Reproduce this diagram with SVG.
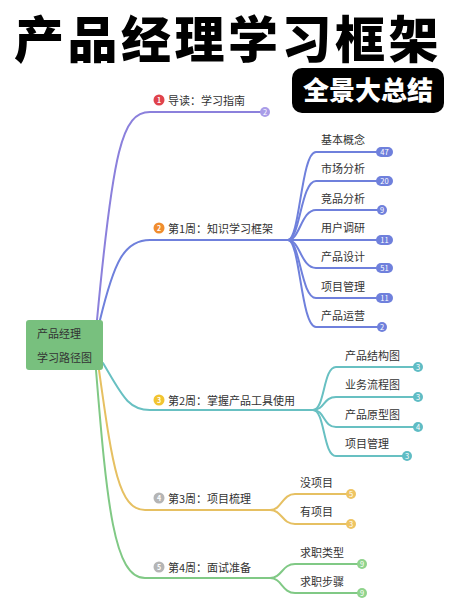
<svg xmlns="http://www.w3.org/2000/svg" width="452" height="600" viewBox="0 0 452 600">
<style>
text{font-family:"Noto Sans CJK SC","Noto Sans",sans-serif}
.title{font-size:50px;font-weight:900;fill:#000;letter-spacing:3.5px}
.lbl{font-size:11px;fill:#333}
.btxt{font-size:7.5px;fill:#fff;text-anchor:middle}
.ntxt{font-size:7px;fill:#fff;text-anchor:middle;font-weight:bold}
.c{fill:none;stroke-width:2;stroke-linecap:round}
.b1{stroke:#8b80dc}.b2{stroke:#6f80dc}.b3{stroke:#68c0c2}.b4{stroke:#e6c062}.b5{stroke:#80c985}
</style>
<rect width="452" height="600" fill="#fff"/>
<text class="title" x="14" y="58">产品经理学习框架</text>
<g id="badge-title">
<rect x="292" y="68" width="152" height="45" rx="10" fill="#000"/>
<text x="368" y="100" font-size="26" font-weight="900" fill="#fff" text-anchor="middle">全景大总结</text>
</g>
<g id="connectors">
<path class="c b1" d="M97 320 C113 150 122 112 150 112 H262"/>
<path class="c b2" d="M100 320 C114 262 124 240 150 240 H288"/>
<path class="c b2" d="M288 240 C300 240 301 152 316 152 H383"/>
<path class="c b2" d="M288 240 C300 240 301 181 316 181 H383"/>
<path class="c b2" d="M288 240 C300 240 301 210 316 210 H380"/>
<path class="c b2" d="M288 240 H383"/>
<path class="c b2" d="M288 240 C300 240 301 268 316 268 H383"/>
<path class="c b2" d="M288 240 C300 240 301 298 316 298 H383"/>
<path class="c b2" d="M288 240 C300 240 301 327 316 327 H380"/>
<path class="c b3" d="M103 363 C122 395 128 410 150 410 H313"/>
<path class="c b3" d="M313 410 C325 410 323 367 336 367 H416"/>
<path class="c b3" d="M313 410 C325 410 323 397 336 397 H416"/>
<path class="c b3" d="M313 410 C325 410 323 427 336 427 H416"/>
<path class="c b3" d="M313 410 C325 410 323 456 336 456 H405"/>
<path class="c b4" d="M99 370 C112 462 118 510 145 510 H270"/>
<path class="c b4" d="M270 510 C282 510 282 494 295 494 H349"/>
<path class="c b4" d="M270 510 C282 510 282 524 295 524 H349"/>
<path class="c b5" d="M96 370 C107 505 114 578 145 578 H270"/>
<path class="c b5" d="M270 578 C282 578 282 564 295 564 H360"/>
<path class="c b5" d="M270 578 C282 578 282 593 295 593 H360"/>
</g>
<g id="root">
<rect x="26" y="320" width="77" height="50" rx="3" fill="#78c07e"/>
<text class="lbl" x="37" y="338" fill="#222">产品经理</text>
<text class="lbl" x="37" y="362" fill="#222">学习路径图</text>
</g>
<g id="n1">
<circle cx="159" cy="100" r="5.5" fill="#e0434c"/><text class="ntxt" x="159" y="102.5">1</text>
<text class="lbl" x="168" y="104.5">导读：学习指南</text>
<circle cx="265" cy="112" r="5" fill="#a99ce8"/><text class="btxt" x="265" y="114.7">2</text>
</g>
<g id="n2">
<circle cx="159" cy="228" r="5.5" fill="#f08d2e"/><text class="ntxt" x="159" y="230.5">2</text>
<text class="lbl" x="168" y="232.5">第1周：知识学习框架</text>
</g>
<g id="n2-children">
<text class="lbl" x="321" y="144">基本概念</text>
<rect x="376" y="147" width="17" height="10" rx="5" fill="#6f80dc"/><text class="btxt" x="384.5" y="154.7">47</text>
<text class="lbl" x="321" y="173">市场分析</text>
<rect x="376" y="176" width="17" height="10" rx="5" fill="#6f80dc"/><text class="btxt" x="384.5" y="183.7">20</text>
<text class="lbl" x="321" y="203">竞品分析</text>
<circle cx="382" cy="210" r="5" fill="#6f80dc"/><text class="btxt" x="382" y="212.7">9</text>
<text class="lbl" x="321" y="232">用户调研</text>
<rect x="376" y="235" width="17" height="10" rx="5" fill="#6f80dc"/><text class="btxt" x="384.5" y="242.7">11</text>
<text class="lbl" x="321" y="261">产品设计</text>
<rect x="376" y="263" width="17" height="10" rx="5" fill="#6f80dc"/><text class="btxt" x="384.5" y="270.7">51</text>
<text class="lbl" x="321" y="291">项目管理</text>
<rect x="376" y="293" width="17" height="10" rx="5" fill="#6f80dc"/><text class="btxt" x="384.5" y="300.7">11</text>
<text class="lbl" x="321" y="320">产品运营</text>
<circle cx="382" cy="327" r="5" fill="#6f80dc"/><text class="btxt" x="382" y="329.7">2</text>
</g>
<g id="n3">
<circle cx="159" cy="400" r="5.5" fill="#f2c431"/><text class="ntxt" x="159" y="402.5">3</text>
<text class="lbl" x="168" y="404.5">第2周：掌握产品工具使用</text>
</g>
<g id="n3-children">
<text class="lbl" x="345" y="360">产品结构图</text>
<circle cx="418" cy="367" r="5" fill="#5fbcc4"/><text class="btxt" x="418" y="369.7">3</text>
<text class="lbl" x="345" y="389">业务流程图</text>
<circle cx="418" cy="397" r="5" fill="#5fbcc4"/><text class="btxt" x="418" y="399.7">3</text>
<text class="lbl" x="345" y="419">产品原型图</text>
<circle cx="418" cy="427" r="5" fill="#5fbcc4"/><text class="btxt" x="418" y="429.7">4</text>
<text class="lbl" x="345" y="448">项目管理</text>
<circle cx="407" cy="456" r="5" fill="#5fbcc4"/><text class="btxt" x="407" y="458.7">3</text>
</g>
<g id="n4">
<circle cx="159" cy="498" r="5.5" fill="#b5b5b5"/><text class="ntxt" x="159" y="500.5">4</text>
<text class="lbl" x="168" y="502.5">第3周：项目梳理</text>
</g>
<g id="n4-children">
<text class="lbl" x="300" y="487">没项目</text>
<circle cx="351" cy="494" r="5" fill="#eec462"/><text class="btxt" x="351" y="496.7">5</text>
<text class="lbl" x="300" y="516">有项目</text>
<circle cx="351" cy="524" r="5" fill="#eec462"/><text class="btxt" x="351" y="526.7">3</text>
</g>
<g id="n5">
<circle cx="159" cy="567" r="5.5" fill="#b5b5b5"/><text class="ntxt" x="159" y="569.5">5</text>
<text class="lbl" x="168" y="571.5">第4周：面试准备</text>
</g>
<g id="n5-children">
<text class="lbl" x="300" y="557">求职类型</text>
<circle cx="362" cy="564" r="5" fill="#8fd38c"/><text class="btxt" x="362" y="566.7">9</text>
<text class="lbl" x="300" y="586">求职步骤</text>
<circle cx="362" cy="593" r="5" fill="#8fd38c"/><text class="btxt" x="362" y="595.7">9</text>
</g>
</svg>
